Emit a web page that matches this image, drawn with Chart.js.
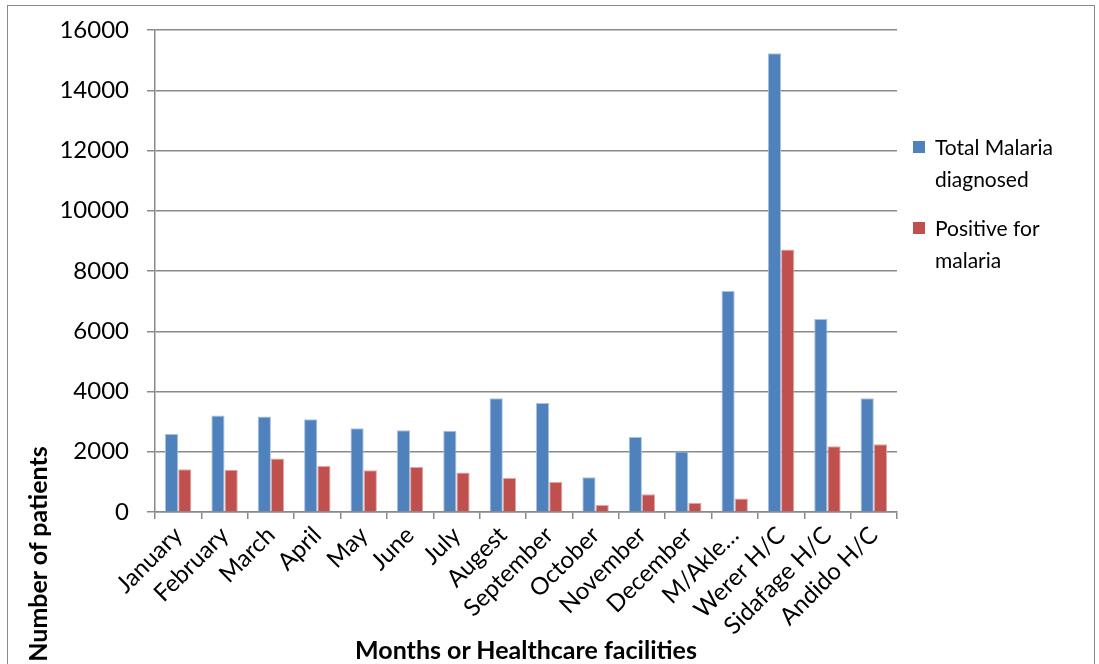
<!DOCTYPE html>
<html>
<head>
<meta charset="utf-8">
<script src="https://cdn.jsdelivr.net/npm/chart.js@4/dist/chart.umd.min.js"></script>
<style>
  html, body { margin: 0; padding: 0; background: #fff; }
  #wrap { position: relative; width: 1099px; height: 664px; overflow: hidden; font-family: Lato, "Open Sans", sans-serif; }
  #frame { position: absolute; left: 7px; top: 5px; width: 1088px; height: 700px; border: 1.5px solid #8a8a8a; box-sizing: border-box; }
  canvas { position: absolute; left: 0; top: 0; }
  .legend { position: absolute; left: 913px; font-size: 21px; line-height: 32px; color: #000; }
  .legend .item { position: relative; padding-left: 22px; margin-bottom: 17px; }
  .legend .sw { position: absolute; left: 0; top: 10px; width: 12px; height: 12px; }
  #ytitle { position: absolute; left: 37px; top: 554px; transform: translate(-50%, -50%) rotate(-90deg); font-weight: bold; font-size: 25px; white-space: nowrap; color: #000; }
  #xtitle { position: absolute; left: 526px; top: 649px; transform: translate(-50%, -50%); font-weight: bold; font-size: 25px; white-space: nowrap; color: #000; }
</style>
</head>
<body>
<div id="wrap">
  <canvas id="c" width="1099" height="664"></canvas>
  <div id="frame"></div>
  <div class="legend" style="top:131px;">
    <div class="item"><span class="sw" style="background:#4F81BD"></span>Total Malaria<br>diagnosed</div>
    <div class="item"><span class="sw" style="background:#C0504D"></span>Positive for<br>malaria</div>
  </div>
  <div id="ytitle">Number of patients</div>
  <div id="xtitle">Months or Healthcare facilities</div>
</div>
<script>
// Monthly totals followed by per-facility totals
const categories = ["January", "February", "March", "April", "May", "June", "July", "Augest",
  "September", "October", "November", "December", "M/Akle…", "Werer H/C", "Sidafage H/C", "Andido H/C"];
const totalDiagnosed = [2590, 3200, 3170, 3080, 2780, 2710, 2700, 3780,
  3620, 1150, 2490, 2010, 7340, 15230, 6410, 3780];
const positiveMalaria = [1420, 1400, 1780, 1530, 1390, 1490, 1310, 1130,
  1000, 230, 590, 310, 450, 8710, 2180, 2250];
const yTicks = [0, 2000, 4000, 6000, 8000, 10000, 12000, 14000, 16000];

const FONT = "Lato, 'Open Sans', sans-serif";
const GRID = '#8a8a8a';

new Chart(document.getElementById('c'), {
  type: 'bar',
  data: {
    labels: categories,
    datasets: [
      { label: 'Total Malaria diagnosed', data: totalDiagnosed, backgroundColor: '#4F81BD', borderColor: '#A9C1E0', borderWidth: { top: 1, left: 1, right: 1, bottom: 0 } },
      { label: 'Positive for malaria', data: positiveMalaria, backgroundColor: '#C0504D', borderColor: '#E0A8A6', borderWidth: { top: 1, left: 1, right: 1, bottom: 0 } }
    ]
  },
  options: {
    responsive: false,
    animation: false,
    layout: { padding: { left: 0, right: 202, top: 30, bottom: 0 } },
    plugins: { legend: { display: false }, tooltip: { enabled: false } },
    datasets: { bar: { categoryPercentage: 0.57, barPercentage: 1.0 } },
    scales: {
      x: {
        offset: true,
        grid: { display: true, drawOnChartArea: false, offset: true, color: GRID, lineWidth: 1.5, tickLength: 7, tickColor: GRID },
        border: { display: true, color: GRID, width: 1.5 },
        ticks: { autoSkip: false, maxRotation: 45, minRotation: 45, color: '#000', padding: 2, font: { family: FONT, size: 24 } },
        afterFit: (s) => { s.height = 152; s.paddingLeft = 0; s.paddingRight = 0; }
      },
      y: {
        min: 0, max: 16000,
        afterBuildTicks: (s) => { s.ticks = yTicks.map(v => ({ value: v })); },
        grid: { color: GRID, lineWidth: 1.5, tickLength: 8, tickColor: GRID },
        border: { display: true, color: GRID, width: 1.5 },
        ticks: { color: '#000', padding: 18, font: { family: FONT, size: 24 }, callback: (v) => String(v) },
        afterFit: (s) => { s.width = 155; s.paddingTop = 0; s.paddingBottom = 0; }
      }
    }
  }
});
</script>
</body>
</html>
